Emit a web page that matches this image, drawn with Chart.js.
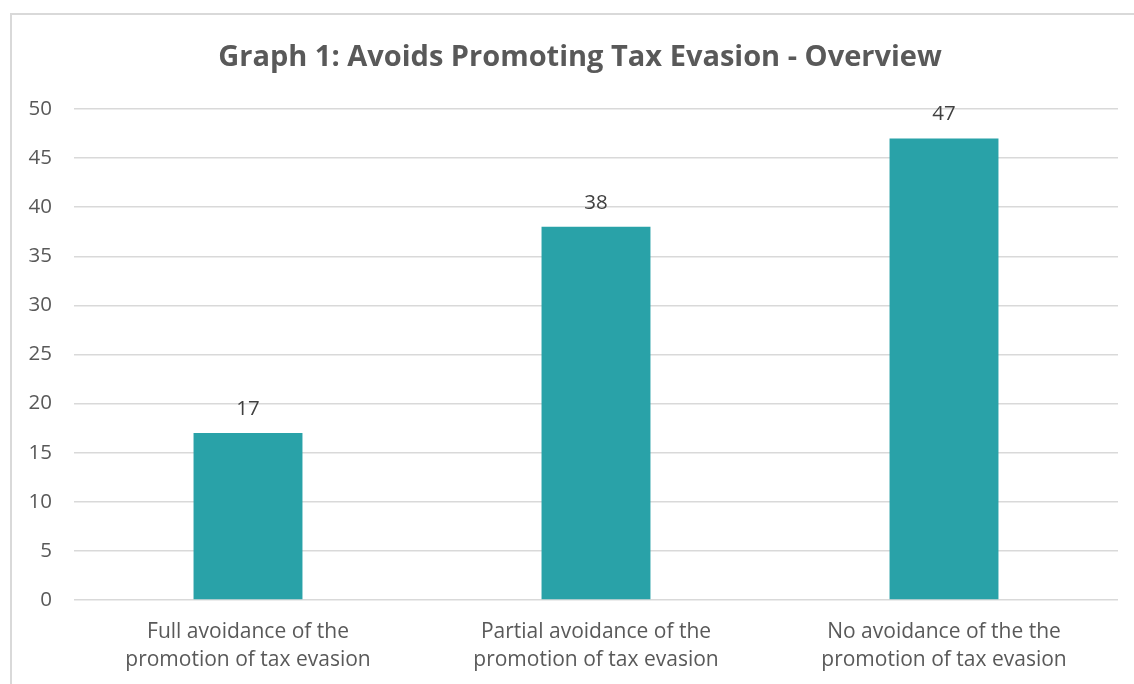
<!DOCTYPE html>
<html>
<head>
<meta charset="utf-8">
<script src="https://cdn.jsdelivr.net/npm/chart.js@4"></script>
<style>
  html, body { margin: 0; padding: 0; background: #ffffff; }
  #wrap { position: relative; width: 1134px; height: 684px; }
  #frame { position: absolute; left: 10px; top: 13px; width: 1140px; height: 700px; border-left: 2px solid #d9d9d9; border-top: 2px solid #d9d9d9; box-sizing: border-box; pointer-events: none; }
  canvas { position: absolute; left: 0; top: 0; }
</style>
</head>
<body>
<div id="wrap">
  <canvas id="c" width="1134" height="684"></canvas>
  <div id="frame"></div>
</div>
<script>
const titleText = "Graph 1: Avoids Promoting Tax Evasion - Overview";
const categories = [
  ["Full avoidance of the", "promotion of tax evasion"],
  ["Partial avoidance of the", "promotion of tax evasion"],
  ["No avoidance of the the", "promotion of tax evasion"]
];
const values = [17, 38, 47];
const yTicks = { min: 0, max: 50, step: 5 };

const FONT = "'Open Sans', Lato, sans-serif";
const barColor = "#29A2A8";
const textColor = "#595959";

const dataLabels = {
  id: "dataLabels",
  afterDatasetsDraw(chart) {
    const ctx = chart.ctx;
    const meta = chart.getDatasetMeta(0);
    ctx.save();
    ctx.font = "20.5px " + FONT;
    ctx.fillStyle = "#404040";
    ctx.textAlign = "center";
    ctx.textBaseline = "middle";
    meta.data.forEach((bar, i) => {
      ctx.fillText(String(values[i]), bar.x, bar.y - 24);
    });
    ctx.restore();
  }
};

const offsetTitle = {
  id: "offsetTitle",
  afterDraw(chart) {
    const ctx = chart.ctx;
    ctx.save();
    ctx.font = "bold 29px " + FONT;
    ctx.fillStyle = textColor;
    ctx.textAlign = "center";
    ctx.textBaseline = "alphabetic";
    ctx.fillText(titleText, 580, 65.5);
    ctx.restore();
  }
};

new Chart(document.getElementById("c"), {
  type: "bar",
  data: {
    labels: categories,
    datasets: [{
      data: values,
      backgroundColor: barColor,
      borderWidth: 0,
      categoryPercentage: 1.0,
      barPercentage: 0.313
    }]
  },
  options: {
    responsive: false,
    animation: false,
    devicePixelRatio: 1,
    layout: { padding: { left: 10, right: 16, top: 109, bottom: 0 } },
    plugins: {
      legend: { display: false },
      tooltip: { enabled: false },
      title: { display: false }
    },
    scales: {
      x: {
        grid: { display: false, drawTicks: false },
        border: { display: false },
        ticks: {
          color: textColor,
          font: { family: FONT, size: 21, lineHeight: 1.33 },
          padding: 18,
          maxRotation: 0,
          autoSkip: false
        },
        afterFit(scale) { scale.height = 84; }
      },
      y: {
        min: yTicks.min,
        max: yTicks.max,
        grid: { color: "#d9d9d9", lineWidth: 1.5, drawTicks: false },
        border: { display: false },
        ticks: {
          stepSize: yTicks.step,
          color: textColor,
          font: { family: FONT, size: 20.5 },
          padding: 22
        },
        afterFit(scale) { scale.width = 64; }
      }
    }
  },
  plugins: [dataLabels, offsetTitle]
});
</script>
</body>
</html>
